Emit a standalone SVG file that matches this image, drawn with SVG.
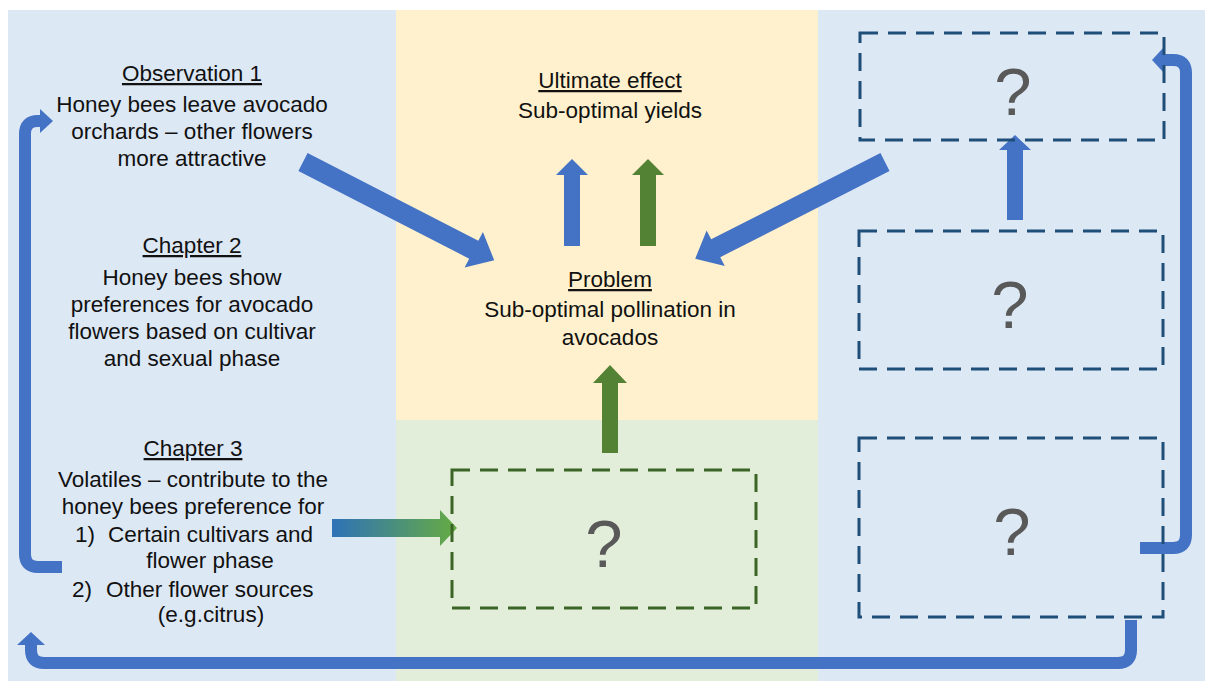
<svg xmlns="http://www.w3.org/2000/svg" width="1205" height="681" viewBox="0 0 1205 681">
<defs>
<linearGradient id="gradArrow" x1="0" y1="0" x2="1" y2="0">
<stop offset="0" stop-color="#2e72b8"/>
<stop offset="1" stop-color="#66ac42"/>
</linearGradient>
<style>
.t{font-family:"Liberation Sans",Arial,sans-serif;font-size:22.5px;fill:#111;text-anchor:middle}
.tl{font-family:"Liberation Sans",Arial,sans-serif;font-size:22.5px;fill:#111}
.u{text-decoration:underline}
.q{font-family:"Liberation Sans",Arial,sans-serif;font-size:67px;fill:#595959;text-anchor:middle}
.dashB{fill:none;stroke:#1f4e79;stroke-width:3;stroke-dasharray:18 10}
.dashG{fill:none;stroke:#3b6526;stroke-width:3;stroke-dasharray:18 10}
.blue{fill:#4472c4}
.green{fill:#548235}
.loop{fill:none;stroke:#4472c4;stroke-width:12}
</style>
</defs>
<rect x="0" y="0" width="1205" height="681" fill="#ffffff"/>
<rect x="8" y="10" width="1197" height="671" fill="#dde8f5"/>
<rect x="396" y="10" width="422" height="410" fill="#fff1cd"/>
<rect x="396" y="420" width="422" height="261" fill="#e2eed9"/>

<g id="observation1">
<text class="t u" x="192" y="81">Observation 1</text>
<text class="t" x="192" y="112">Honey bees leave avocado</text>
<text class="t" x="192" y="139">orchards – other flowers</text>
<text class="t" x="192" y="166">more attractive</text>
</g>
<g id="chapter2">
<text class="t u" x="192" y="253">Chapter 2</text>
<text class="t" x="192" y="285">Honey bees show</text>
<text class="t" x="192" y="312">preferences for avocado</text>
<text class="t" x="192" y="339">flowers based on cultivar</text>
<text class="t" x="192" y="366">and sexual phase</text>
</g>
<g id="chapter3">
<text class="t u" x="193" y="456">Chapter 3</text>
<text class="t" x="193" y="487">Volatiles – contribute to the</text>
<text class="t" x="193" y="514">honey bees preference for</text>
<text class="tl" x="75" y="542">1)</text>
<text class="tl" x="108" y="542">Certain cultivars and</text>
<text class="t" x="210" y="568">flower phase</text>
<text class="tl" x="72" y="597">2)</text>
<text class="tl" x="106" y="597">Other flower sources</text>
<text class="t" x="211" y="622">(e.g.citrus)</text>
</g>
<g id="ultimate-effect">
<text class="t u" x="610" y="88">Ultimate effect</text>
<text class="t" x="610" y="118">Sub-optimal yields</text>
</g>
<g id="problem">
<text class="t u" x="610" y="287">Problem</text>
<text class="t" x="610" y="317">Sub-optimal pollination in</text>
<text class="t" x="610" y="345">avocados</text>
</g>

<g id="connectors">
<polygon class="blue" transform="translate(303,162) rotate(27.2)" points="0,-10 192,-10 192,-20 215,0 192,20 192,10 0,10"/>
<polygon class="blue" transform="translate(885,162) rotate(153)" points="0,-10 190,-10 190,-20 213,0 190,20 190,10 0,10"/>
<polygon class="blue" points="564,246 564,175 556,175 572,159 588,175 580,175 580,246"/>
<polygon class="green" points="640,246 640,175 632,175 648,159 664,175 656,175 656,246"/>
<polygon class="green" points="602,453 602,383 593,383 610,365 627,383 618,383 618,453"/>
<polygon class="blue" points="1007,220 1007,150 999,150 1015,135 1031,150 1023,150 1023,220"/>
<polygon fill="url(#gradArrow)" points="332,519 440,519 440,510 457,528 440,546 440,537 332,537"/>
<path class="loop" d="M62,567 L38,567 Q25,567 25,554 L25,134 Q25,121 38,121 L41,121"/>
<polygon class="blue" points="40,109 53,121 40,133"/>
<path class="loop" d="M1140,548 L1173,548 Q1186,548 1186,535 L1186,73 Q1186,60 1173,60 L1163,60"/>
<polygon class="blue" points="1164,47 1152,60 1164,73"/>
<path class="loop" d="M1131,620 L1131,650 Q1131,663 1118,663 L44,663 Q31,663 31,650 L31,644"/>
<polygon class="blue" points="17,645 31,632 45,645"/>
</g>

<g id="box-green">
<rect class="dashG" x="452" y="470" width="304" height="138"/>
<text class="q" x="604" y="567">?</text>
</g>
<g id="box-top">
<rect class="dashB" x="860" y="33" width="304" height="107"/>
<text class="q" x="1013" y="115">?</text>
</g>
<g id="box-middle">
<rect class="dashB" x="859" y="231" width="304" height="138"/>
<text class="q" x="1010" y="328">?</text>
</g>
<g id="box-bottom">
<rect class="dashB" x="859" y="438" width="304" height="179"/>
<text class="q" x="1012" y="555">?</text>
</g>
</svg>
